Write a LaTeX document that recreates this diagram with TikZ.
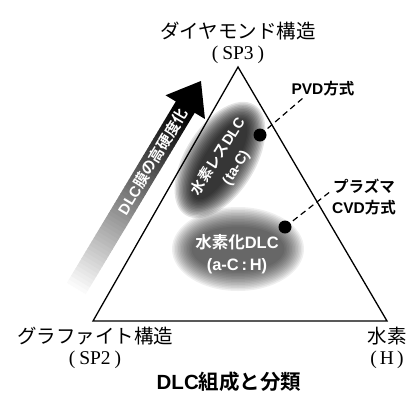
\documentclass[tikz,border=0pt]{standalone}
\usepackage{fontspec}
\setmainfont{Liberation Serif}
\newfontfamily\cjk{Noto Sans CJK JP}
\newfontfamily\cjkm{Noto Sans CJK JP Bold}
\newfontfamily\latm{Liberation Sans Bold}
\newfontfamily\serifrm{Liberation Serif}
\newcommand\lat[1]{{\latm #1}}
\begin{document}
\begin{tikzpicture}[x=1pt,y=-1pt,
  vlabel/.style={font=\cjk\fontsize{19.5}{21.5}\selectfont, align=center, inner sep=0pt},
  sanslabel/.style={font=\cjkm\fontsize{15.5}{20.5}\selectfont, align=center, inner sep=0pt},
  blobtext/.style={text=white, font=\cjkm\fontsize{15}{20}\selectfont, align=center, inner sep=0pt},
  blackdot/.style={circle, fill=black, inner sep=0pt, minimum size=13pt},
  leaderline/.style={dash pattern=on 6pt off 4pt, line width=1.2pt},
  tri/.style={line width=1.3pt, line join=miter}]
\useasboundingbox (0,0) rectangle (415,405);

% blobs
\begin{scope}[shift={(220,160)}, rotate=58]
  \foreach \k in {0,...,13} \fill[black, opacity=0.105] (0,0) ellipse ({65-1.5*\k} and {35-1.5*\k});
\end{scope}
\begin{scope}[shift={(238,249)}]
  \foreach \k in {0,...,13} \fill[black, opacity=0.062] (0,0) ellipse ({66-1.5*\k} and {42-1.5*\k});
\end{scope}

% arrow (gradient shaft built from strips, black head)
\begin{scope}[shift={(185.5,106.7)}, rotate=59]
  \foreach \i in {0,...,54} {
    \pgfmathsetmacro\xa{-220+4*\i}
    \pgfmathsetmacro\xb{-220+4*\i+4.6}
    \pgfmathsetmacro\pct{max(0,min(100,0.4818*(4*\i+2)-3))}
    \fill[black!\pct] (\xa,-11) rectangle (\xb,11);
  }
  \coordinate (h1) at (-0.5,23);
  \coordinate (h2) at (30,0);
  \coordinate (h3) at (-0.5,-23);
  \coordinate (amid) at (-64,0);
\end{scope}
\fill[black] (h1) -- (h2) -- (h3) -- cycle;
\node[blobtext, rotate=59] (atext) at (amid) {\lat{DLC}膜の高硬度化};

% triangle
\coordinate (apex) at (238,67);
\coordinate (bl) at (93,321);
\coordinate (br) at (387,321);
\draw[tri] (apex) -- (bl) -- (br) -- cycle;

% blob labels
\node[blobtext, rotate=58, font=\cjkm\fontsize{14.5}{21}\selectfont] (tac) at (227,162) {水素レス\lat{DLC}\\\lat{(ta-C)}};
\node[blobtext, font=\cjkm\fontsize{16.5}{22}\selectfont] (ach) at (237,254) {水素化\lat{DLC}\\\lat{(a-C\,:\,H)}};

% dots and leaders
\node[blackdot] (d1) at (260,135) {};
\coordinate (d1e) at (303,98);
\draw[leaderline] (d1.center) -- (d1e);
\node[sanslabel] (pvd) at (323,89) {\lat{PVD}方式};
\node[blackdot] (d2) at (285,227) {};
\coordinate (d2e) at (331,191);
\draw[leaderline] (d2.center) -- (d2e);
\node[sanslabel] (cvd) at (364,197) {プラズマ\\\lat{CVD}方式};

% vertex labels
\node[vlabel] (sp3) at (238,43) {ダイヤモンド構造\\{\serifrm(\hspace{4pt}SP3\hspace{4pt})}};
\node[vlabel] (sp2) at (95,348) {グラファイト構造\\{\serifrm(\hspace{4pt}SP2\hspace{4pt})}};
\node[vlabel] (hh) at (387,348) {水素\\{\serifrm(\hspace{3pt}H\hspace{3pt})}};

% title
\node[font=\cjkm\fontsize{20.5}{24}\selectfont, inner sep=0pt] (title) at (229,382) {\lat{DLC}組成と分類};
\end{tikzpicture}
\end{document}
